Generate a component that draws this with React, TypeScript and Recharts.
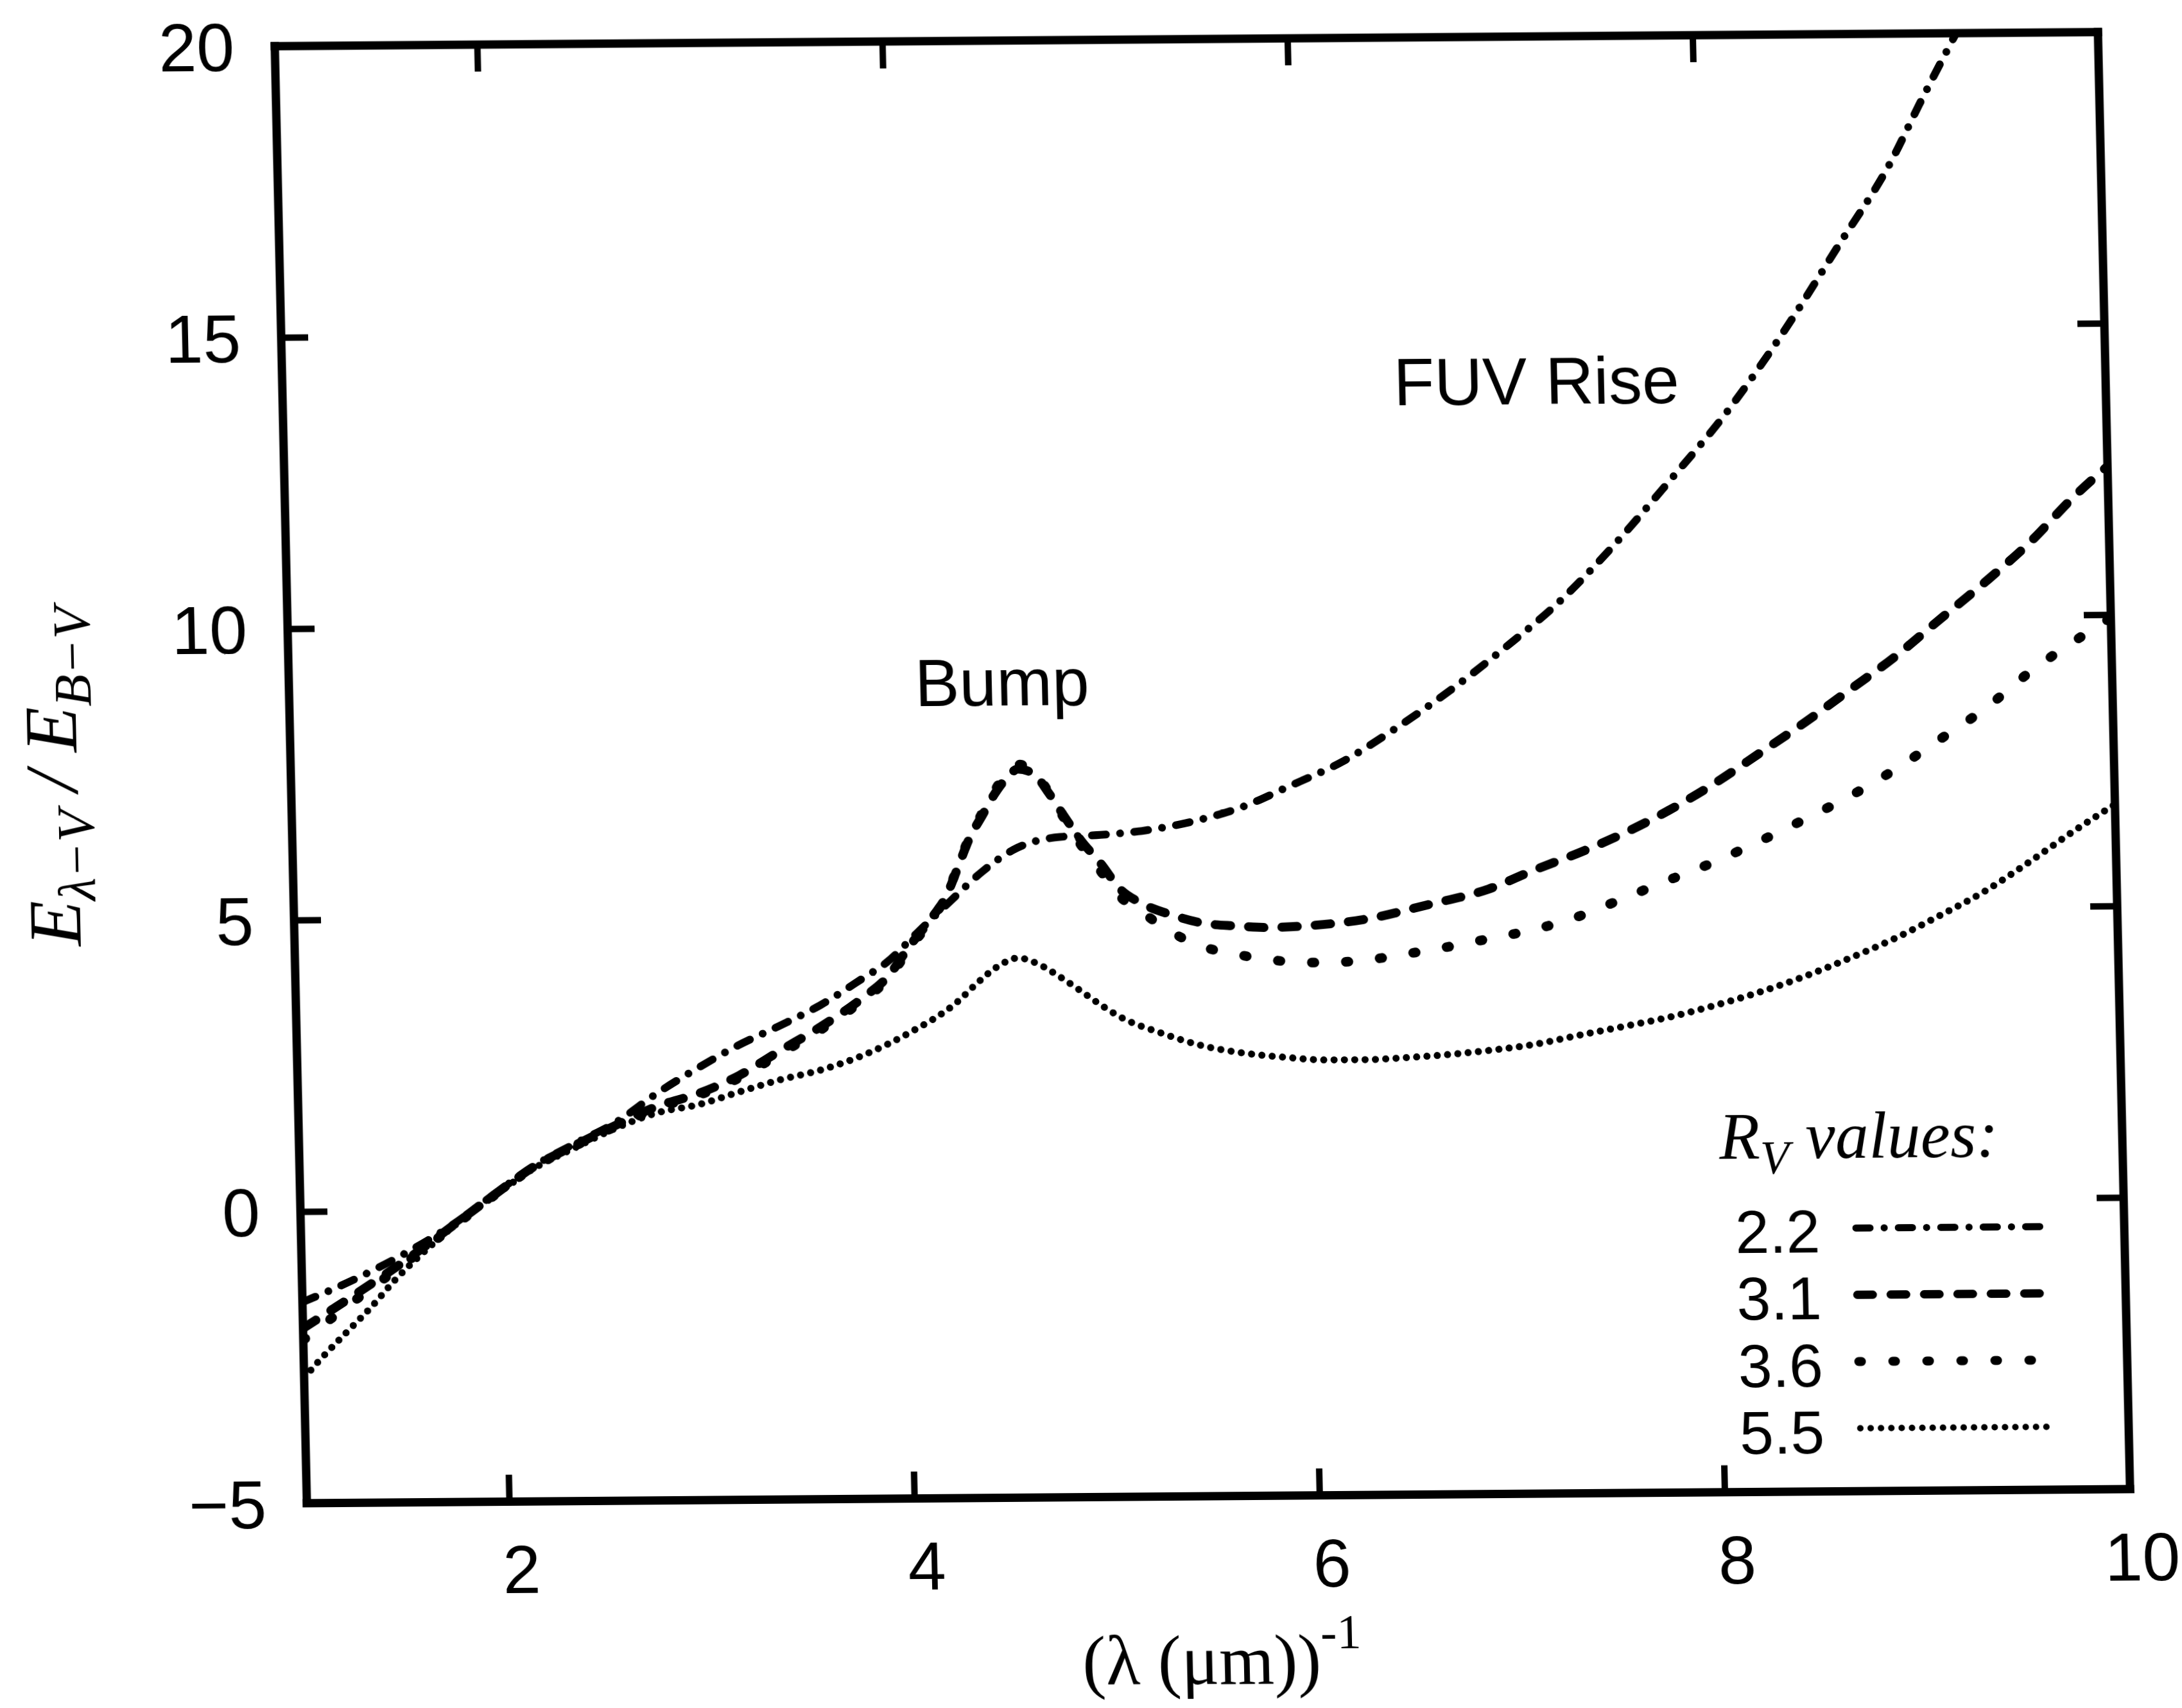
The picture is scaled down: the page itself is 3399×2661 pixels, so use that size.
import React from 'react';
import { LineChart, Line, XAxis, YAxis, Legend, ReferenceDot, Label } from 'recharts';

// R_V = 2.2 (dash-dot)
const x22 = [1.0, 1.25, 1.5, 1.75, 1.96, 2.16, 2.36, 2.57, 2.77, 2.98, 3.18, 3.38, 3.59, 3.8, 3.92, 4.07, 4.24, 4.4, 4.56, 4.79, 4.99, 5.21, 5.46, 5.7, 5.92, 6.2, 6.45, 6.73, 7.0, 7.28, 7.56, 7.84, 8.12, 8.4, 8.69, 8.97, 9.11, 9.3];
const y22 = [-1.55, -1.18, -0.75, -0.24, 0.28, 0.76, 1.13, 1.5, 1.98, 2.42, 2.8, 3.12, 3.48, 3.93, 4.2, 4.69, 5.24, 5.74, 6.12, 6.33, 6.36, 6.43, 6.59, 6.83, 7.16, 7.6, 8.13, 8.79, 9.5, 10.3, 11.28, 12.37, 13.5, 14.82, 16.34, 17.84, 18.78, 20.0];

// R_V = 3.1 (dashed)
const x31 = [1.0, 1.25, 1.5, 1.75, 1.96, 2.16, 2.36, 2.57, 2.77, 2.98, 3.18, 3.38, 3.59, 3.8, 3.92, 4.04, 4.15, 4.22, 4.28, 4.34, 4.41, 4.47, 4.53, 4.59, 4.67, 4.73, 4.81, 4.89, 4.99, 5.08, 5.18, 5.34, 5.49, 5.65, 5.8, 6.03, 6.29, 6.6, 6.9, 7.12, 7.35, 7.58, 7.8, 8.03, 8.25, 8.48, 8.7, 8.93, 9.15, 9.38, 9.61, 9.83, 10.0];
const y31 = [-2.0, -1.45, -0.88, -0.26, 0.27, 0.75, 1.1, 1.45, 1.76, 1.98, 2.28, 2.69, 3.11, 3.6, 3.94, 4.5, 4.97, 5.32, 5.8, 6.3, 6.72, 7.07, 7.34, 7.5, 7.41, 7.13, 6.7, 6.28, 5.86, 5.43, 5.19, 4.97, 4.83, 4.78, 4.75, 4.78, 4.88, 5.12, 5.38, 5.69, 5.99, 6.33, 6.71, 7.17, 7.67, 8.2, 8.74, 9.31, 9.93, 10.57, 11.26, 12.03, 12.55];

// R_V = 3.6 (short dashes)
const x36 = [1.0, 1.25, 1.5, 1.75, 1.96, 2.16, 2.36, 2.57, 2.77, 2.98, 3.18, 3.38, 3.59, 3.8, 3.92, 4.04, 4.15, 4.22, 4.28, 4.34, 4.41, 4.47, 4.53, 4.59, 4.67, 4.73, 4.81, 4.89, 4.99, 5.08, 5.22, 5.4, 5.5, 5.62, 5.75, 5.95, 6.1, 6.29, 6.51, 6.67, 6.9, 7.12, 7.35, 7.57, 7.79, 8.02, 8.24, 8.47, 8.69, 8.92, 9.14, 9.37, 9.59, 9.82, 10.0];
const y36 = [-2.2, -1.55, -0.92, -0.28, 0.26, 0.74, 1.09, 1.43, 1.73, 1.95, 2.24, 2.64, 3.06, 3.56, 3.9, 4.46, 4.95, 5.32, 5.82, 6.32, 6.76, 7.12, 7.42, 7.58, 7.46, 7.15, 6.66, 6.2, 5.72, 5.3, 4.94, 4.55, 4.41, 4.31, 4.23, 4.15, 4.14, 4.18, 4.29, 4.38, 4.53, 4.68, 4.91, 5.21, 5.51, 5.82, 6.16, 6.54, 6.92, 7.38, 7.88, 8.41, 9.02, 9.56, 9.95];

// R_V = 5.5 (dotted)
const x55 = [1.0, 1.07, 1.23, 1.34, 1.46, 1.6, 1.75, 1.96, 2.16, 2.36, 2.57, 2.77, 2.98, 3.18, 3.38, 3.59, 3.8, 4.03, 4.26, 4.37, 4.47, 4.57, 4.67, 4.77, 4.87, 4.97, 5.07, 5.27, 5.47, 5.67, 5.88, 6.08, 6.28, 6.48, 6.66, 6.88, 7.11, 7.33, 7.56, 7.78, 8.0, 8.22, 8.45, 8.67, 8.9, 9.12, 9.35, 9.57, 9.8, 10.0];
const y55 = [-2.85, -2.58, -2.02, -1.64, -1.18, -0.72, -0.28, 0.25, 0.72, 1.06, 1.4, 1.65, 1.79, 2.0, 2.2, 2.37, 2.62, 3.0, 3.5, 3.85, 4.12, 4.26, 4.15, 3.94, 3.7, 3.45, 3.23, 2.95, 2.73, 2.6, 2.52, 2.47, 2.47, 2.5, 2.54, 2.61, 2.71, 2.86, 3.01, 3.16, 3.35, 3.57, 3.84, 4.14, 4.48, 4.86, 5.28, 5.77, 6.31, 6.75];

const xTicks = [2, 4, 6, 8, 10];
const yTicks = [-5, 0, 5, 10, 15, 20];
const xInnerTicks = [2, 4, 6, 8];
const yInnerTicks = [0, 5, 10, 15];

const SANS = '"Liberation Sans", Arial, sans-serif';
const SERIF = '"Liberation Serif", "Times New Roman", serif';

const toRows = (xs: number[], ys: number[]) => xs.map((x, i) => ({ x, y: ys[i] }));

const curves = [
  { name: '2.2', data: toRows(x22, y22), dash: '22 22 0.1 22', width: 12 },
  { name: '3.1', data: toRows(x31, y31), dash: '24 28', width: 14 },
  { name: '3.6', data: toRows(x36, y36), dash: '4 49', width: 15 },
  { name: '5.5', data: toRows(x55, y55), dash: '0.1 16', width: 11 },
];

const frame = { stroke: '#000', strokeWidth: 13, strokeLinecap: 'square' as const };
const tickStroke = { stroke: '#000', strokeWidth: 10 };

const BottomTick = ({ x, y, payload }: any) => (
  <text x={x + 17} y={y + 77} textAnchor="middle" fontFamily={SANS} fontSize={106} fill="#000">
    {payload.value}
  </text>
);

const LeftTick = ({ x, y, payload }: any) => (
  <text x={x} y={y + 38} textAnchor="end" fontFamily={SANS} fontSize={106} fill="#000">
    {payload.value < 0 ? `\u2212${Math.abs(payload.value)}` : payload.value}
  </text>
);

const YTitle = ({ viewBox }: any) => {
  const cx = viewBox.x + 127;
  const cy = viewBox.y + viewBox.height / 2;
  return (
    <text
      transform={`translate(${cx},${cy}) rotate(-90)`}
      textAnchor="middle"
      fontFamily={SERIF}
      fontStyle="italic"
      fontSize={116}
      fill="#000"
    >
      E
      <tspan fontSize={82} dy={24}>λ−V</tspan>
      <tspan dy={-24}> / E</tspan>
      <tspan fontSize={82} dy={24}>B−V</tspan>
    </text>
  );
};

const XTitle = ({ viewBox }: any) => (
  <text
    x={viewBox.x + viewBox.width / 2}
    y={viewBox.y + 292}
    textAnchor="middle"
    fontFamily={SERIF}
    fontSize={110}
    fill="#000"
  >
    (λ (μm))
    <tspan fontSize={76} dy={-54}>-1</tspan>
  </text>
);

const RvLegend = () => (
  <svg width={560} height={580}>
    <text x={22} y={91} fontFamily={SERIF} fontStyle="italic" fontSize={104} fill="#000">
      R<tspan fontSize={74} dy={24}>V</tspan>
      <tspan dy={-24}> values:</tspan>
    </text>
    {curves.map((c, i) => {
      const cy = 204 + i * 104;
      return (
        <g key={c.name}>
          <text x={44} y={cy + 34} fontFamily={SANS} fontSize={95} fill="#000">
            {c.name}
          </text>
          <line
            x1={232}
            x2={528}
            y1={cy - 4}
            y2={cy - 4}
            stroke="#000"
            strokeWidth={c.width - 1}
            strokeDasharray={c.dash}
            strokeLinecap="round"
          />
        </g>
      );
    })}
  </svg>
);

export default function App() {
  return (
    <div
      style={{
        position: 'fixed',
        left: 0,
        top: 0,
        width: 3380,
        height: 2660,
        background: '#fff',
        transformOrigin: '0 0',
        transform: 'matrix(1, -0.007746, 0.022026, 1, -33.5, 5.56)',
      }}
    >
      <LineChart width={3380} height={2660} margin={{ top: 69, right: 79, bottom: 0, left: 0 }}>
        <XAxis
          xAxisId={0}
          type="number"
          dataKey="x"
          domain={[1, 10]}
          ticks={xTicks}
          allowDataOverflow
          height={320}
          axisLine={frame}
          tickLine={tickStroke}
          tickSize={-42}
          tickMargin={107}
          tick={BottomTick}
          label={<Label content={XTitle} />}
        />
        <XAxis
          xAxisId="top"
          orientation="top"
          type="number"
          dataKey="x"
          domain={[1, 10]}
          ticks={xInnerTicks}
          allowDataOverflow
          height={1}
          axisLine={frame}
          tickLine={tickStroke}
          tickSize={-42}
          tickFormatter={() => ''}
        />
        <YAxis
          yAxisId={0}
          type="number"
          domain={[-5, 20]}
          ticks={yTicks}
          allowDataOverflow
          width={460}
          axisLine={frame}
          tickLine={tickStroke}
          tickSize={-42}
          tickMargin={105}
          tick={LeftTick}
          label={<Label content={YTitle} />}
        />
        <YAxis
          yAxisId="right"
          orientation="right"
          type="number"
          domain={[-5, 20]}
          ticks={yInnerTicks}
          allowDataOverflow
          width={1}
          axisLine={frame}
          tickLine={tickStroke}
          tickSize={-42}
          tickFormatter={() => ''}
        />
        {curves.map((c) => (
          <Line
            key={c.name}
            data={c.data}
            dataKey="y"
            name={c.name}
            type="monotone"
            stroke="#000"
            strokeWidth={c.width}
            strokeDasharray={c.dash}
            strokeLinecap="round"
            dot={false}
            activeDot={false}
            isAnimationActive={false}
          />
        ))}
        <ReferenceDot
          x={4.52}
          y={9.0}
          r={0}
          fill="none"
          stroke="none"
          label={{ value: 'Bump', position: 'center', fontFamily: SANS, fontSize: 104, fill: '#000' }}
        />
        <ReferenceDot
          x={7.19}
          y={14.1}
          r={0}
          fill="none"
          stroke="none"
          label={{ value: 'FUV Rise', position: 'center', fontFamily: SANS, fontSize: 104, fill: '#000' }}
        />
        <Legend
          layout="horizontal"
          verticalAlign="middle"
          align="center"
          content={() => <RvLegend />}
          wrapperStyle={{ left: 2650, top: 1730, width: 560, height: 580 }}
        />
      </LineChart>
    </div>
  );
}
